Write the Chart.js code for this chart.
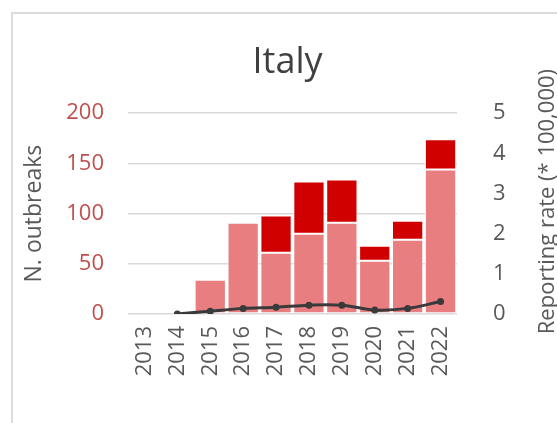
<!DOCTYPE html>
<html>
<head>
<meta charset="utf-8">
<script src="https://cdn.jsdelivr.net/npm/chart.js@4/dist/chart.umd.min.js"></script>
<style>
html,body{margin:0;padding:0;background:#fff;}
#wrap{position:relative;width:557px;height:423px;}
#frame{position:absolute;left:11px;top:12px;width:560px;height:430px;border-top:2px solid #dcdcdc;border-left:2px solid #dcdcdc;pointer-events:none;}
canvas{position:absolute;left:0;top:0;}
</style>
</head>
<body>
<div id="wrap">
<div id="frame"></div>
<canvas id="c" width="557" height="423"></canvas>
</div>
<script>
const years = ['2013','2014','2015','2016','2017','2018','2019','2020','2021','2022'];
const outbreaksLight = [0, 0, 34, 91, 61, 80, 91, 53, 74, 144];
const outbreaksDark = [0, 0, 1, 0, 37, 52, 43, 15, 19, 30];
const reportingRate = [null, 0.0, 0.07, 0.14, 0.17, 0.22, 0.22, 0.10, 0.14, 0.31];
const leftTicks = [0, 50, 100, 150, 200];
const rightTicks = [0, 1, 2, 3, 4, 5];
const rightTitle = 'Reporting rate (* 100,000)';

const FONT = "'Open Sans', 'Liberation Sans', sans-serif";

const rightTitlePlugin = {
  id: 'rightTitle',
  afterDraw(chart) {
    const ctx = chart.ctx;
    const a = chart.chartArea;
    ctx.save();
    ctx.translate(548, (a.top + a.bottom) / 2 - 12);
    ctx.rotate(-Math.PI / 2);
    ctx.font = '22px ' + FONT;
    ctx.fillStyle = '#595959';
    ctx.textAlign = 'center';
    ctx.textBaseline = 'middle';
    ctx.fillText(rightTitle, 0, 0);
    ctx.restore();
  }
};

new Chart(document.getElementById('c'), {
  data: {
    labels: years,
    datasets: [
      {
        type: 'line',
        data: reportingRate,
        yAxisID: 'y2',
        borderColor: '#3a3a3a',
        backgroundColor: '#3a3a3a',
        borderWidth: 3,
        pointRadius: 3.5,
        pointBackgroundColor: '#3a3a3a',
        pointBorderWidth: 0,
        tension: 0.35,
        order: 0
      },
      {
        type: 'bar',
        data: outbreaksLight,
        yAxisID: 'y',
        backgroundColor: '#e87e80',
        borderColor: '#ffffff',
        borderWidth: 1,
        borderSkipped: false,
        categoryPercentage: 0.97,
        barPercentage: 0.98,
        stack: 's',
        order: 1
      },
      {
        type: 'bar',
        data: outbreaksDark,
        yAxisID: 'y',
        backgroundColor: '#d10000',
        borderColor: '#ffffff',
        borderWidth: 1,
        borderSkipped: false,
        categoryPercentage: 0.97,
        barPercentage: 0.98,
        stack: 's',
        order: 1
      }
    ]
  },
  options: {
    responsive: false,
    animation: false,
    layout: { padding: { left: 18, right: 0, top: 0, bottom: 0 } },
    plugins: {
      legend: { display: false },
      tooltip: { enabled: false },
      title: {
        display: true,
        text: 'Italy',
        color: '#404040',
        font: { family: FONT, size: 36, weight: 'normal' },
        padding: { top: 41, bottom: 29 }
      }
    },
    scales: {
      x: {
        stacked: true,
        grid: { display: false, drawTicks: false },
        border: { display: false },
        ticks: {
          color: '#595959',
          font: { family: FONT, size: 22 },
          minRotation: 90,
          maxRotation: 90,
          padding: 12
        },
        afterFit: s => { s.height = 109; }
      },
      y: {
        position: 'left',
        stacked: true,
        min: 0,
        max: 200,
        afterBuildTicks: s => { s.ticks = leftTicks.map(v => ({ value: v })); },
        grid: { color: '#d9d9d9', lineWidth: 1.5, drawTicks: false },
        border: { display: false },
        ticks: {
          color: '#c0504d',
          font: { family: FONT, size: 22 },
          padding: 24
        },
        title: {
          display: true,
          text: 'N. outbreaks',
          color: '#595959',
          font: { family: FONT, size: 23 },
          padding: { top: 3, bottom: 0 }
        },
        afterFit: s => { s.width = 110; }
      },
      y2: {
        position: 'right',
        min: 0,
        max: 5,
        afterBuildTicks: s => { s.ticks = rightTicks.map(v => ({ value: v })); },
        grid: { display: false, drawTicks: false },
        border: { display: false },
        ticks: {
          color: '#595959',
          font: { family: FONT, size: 22 },
          padding: 36
        },
        afterFit: s => { s.width = 100; }
      }
    }
  },
  plugins: [rightTitlePlugin]
});
</script>
</body>
</html>
